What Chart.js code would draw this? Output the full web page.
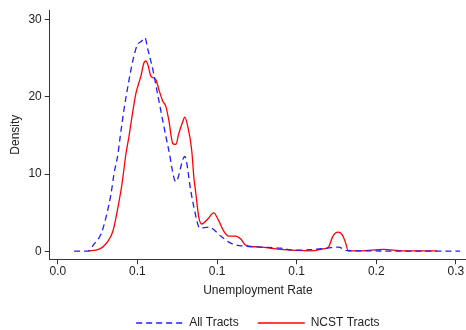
<!DOCTYPE html>
<html>
<head>
<meta charset="utf-8">
<script src="https://cdn.jsdelivr.net/npm/chart.js@4.4.0/dist/chart.umd.min.js"></script>
<style>
  body { margin: 0; background: #fff; }
  #chart { display: block; }
</style>
</head>
<body>
<canvas id="chart" width="466" height="330"></canvas>
<script>
var allX = [0.0102, 0.0190, 0.0227, 0.0271, 0.0303, 0.0334, 0.0353, 0.0378, 0.0390, 0.0415,
  0.0447, 0.0472, 0.0497, 0.0528, 0.0547, 0.0566, 0.0597, 0.0629, 0.0666, 0.0697,
  0.0741, 0.0797, 0.0835, 0.0854, 0.0892, 0.0948, 0.1023, 0.1086, 0.1167, 0.1274,
  0.1399, 0.1481, 0.1587, 0.1694, 0.1762, 0.1819, 0.1963, 0.2151, 0.2339, 0.2527];
var allY = [0.04, 0.04, 0.95, 2.25, 4.47, 7.46, 10.07, 12.67, 14.6, 18.27,
  22.17, 24.78, 26.6, 27.25, 27.64, 26.08, 23.48, 20.09, 16.18, 13.06,
  9.02, 12.28, 7.85, 5.77, 3.03, 3.16, 1.99, 1.08, 0.69, 0.56,
  0.43, 0.17, 0.23, 0.43, 0.56, 0.1, 0.07, 0.04, 0.04, 0.04];

var ncstX = [0.0190, 0.0259, 0.0315, 0.0346, 0.0378, 0.0403, 0.0428, 0.0447, 0.0472, 0.0491,
  0.0522, 0.0541, 0.0553, 0.0566, 0.0584, 0.0616, 0.0635, 0.0660, 0.0678, 0.0697,
  0.0722, 0.0741, 0.0760, 0.0785, 0.0797, 0.0816, 0.0841, 0.0854, 0.0867, 0.0885,
  0.0904, 0.0942, 0.0979, 0.1011, 0.1042, 0.1073, 0.1117, 0.1149, 0.1180, 0.1274,
  0.1380, 0.1587, 0.1668, 0.1700, 0.1725, 0.1744, 0.1762, 0.1788, 0.1806, 0.1825,
  0.1900, 0.2044, 0.2170, 0.2383];
var ncstY = [0.08, 0.3, 1.34, 2.64, 5.77, 8.76, 12.67, 14.9, 18.27, 20.5,
  22.7, 24.4, 24.65, 24.1, 22.7, 22.2, 20.9, 19.4, 18.8, 16.97,
  13.97, 13.84, 15.27, 16.8, 17.36, 16.18, 13.06, 9.67, 7.46, 4.47,
  3.55, 4.2, 5.0, 3.95, 2.64, 1.99, 1.99, 1.6, 0.82, 0.56,
  0.3, 0.08, 0.34, 0.56, 1.86, 2.38, 2.51, 2.12, 1.21, 0.08,
  0.08, 0.26, 0.08, 0.08];

var xTickValues = [0, 0.05, 0.1, 0.15, 0.2, 0.25];
var xTickLabels = ["0.0", "0.1", "0.1", "0.1", "0.2", "0.3"];
var yTickValues = [0, 10, 20, 30];

var seriesNames = ["All Tracts", "NCST Tracts"];

function toPoints(xs, ys) {
  return xs.map(function (x, i) {
    return { x: x, y: ys[i] };
  });
}

var axisColor = "#333";
var textColor = "#222";
var font = { family: "'Liberation Sans', Arial, sans-serif", size: 12 };

Chart.defaults.font.family = font.family;
Chart.defaults.color = textColor;

// point-style legend items lose the dataset's dash, so copy it back
function legendLabels(chart) {
  var items = Chart.defaults.plugins.legend.labels.generateLabels(chart);
  items.forEach(function (item) {
    var ds = chart.data.datasets[item.datasetIndex];
    item.lineDash = ds.borderDash || [];
    item.lineWidth = ds.borderWidth;
    item.strokeStyle = ds.borderColor;
  });
  return items;
}

new Chart(document.getElementById("chart"), {
  type: "scatter",
  data: {
    datasets: [
      {
        label: seriesNames[0],
        data: toPoints(allX, allY),
        showLine: true,
        borderColor: "rgb(30, 30, 255)",
        backgroundColor: "rgb(30, 30, 255)",
        borderWidth: 1.3,
        borderDash: [6, 4],
        pointRadius: 0,
        cubicInterpolationMode: "monotone",
      },
      {
        label: seriesNames[1],
        data: toPoints(ncstX, ncstY),
        showLine: true,
        borderColor: "rgb(255, 0, 0)",
        backgroundColor: "rgb(255, 0, 0)",
        borderWidth: 1.3,
        pointRadius: 0,
        cubicInterpolationMode: "monotone",
      },
    ],
  },
  options: {
    responsive: false,
    animation: false,
    devicePixelRatio: 1,
    layout: { padding: { left: 0, right: 0, top: 7, bottom: -9 } },
    plugins: {
      tooltip: { enabled: false },
      legend: {
        position: "bottom",
        fullSize: false,
        labels: {
          usePointStyle: true,
          pointStyle: "line",
          pointStyleWidth: 47,
          padding: 19,
          font: font,
          color: textColor,
          generateLabels: legendLabels,
        },
      },
    },
    scales: {
      x: {
        type: "linear",
        min: -0.0051,
        max: 0.2564,
        afterBuildTicks: function (axis) {
          axis.ticks = xTickValues.map(function (v) {
            return { value: v };
          });
        },
        ticks: {
          font: font,
          color: textColor,
          padding: 0.5,
          maxRotation: 0,
          callback: function (value, index) {
            return xTickLabels[index];
          },
        },
        grid: { display: true, drawOnChartArea: false, drawTicks: true, tickLength: 5, color: axisColor },
        border: { display: true, color: axisColor, width: 1 },
        title: {
          display: true,
          text: "Unemployment Rate",
          font: font,
          color: textColor,
          padding: { top: 4, bottom: 0 },
        },
      },
      y: {
        type: "linear",
        min: -1,
        max: 31.2,
        afterBuildTicks: function (axis) {
          axis.ticks = yTickValues.map(function (v) {
            return { value: v };
          });
        },
        ticks: { font: font, color: textColor, padding: 3 },
        grid: { display: true, drawOnChartArea: false, drawTicks: true, tickLength: 5, color: axisColor },
        border: { display: true, color: axisColor, width: 1 },
        title: {
          display: true,
          text: "Density",
          font: font,
          color: textColor,
          padding: { top: 8, bottom: 3 },
        },
      },
    },
  },
});
</script>
</body>
</html>
